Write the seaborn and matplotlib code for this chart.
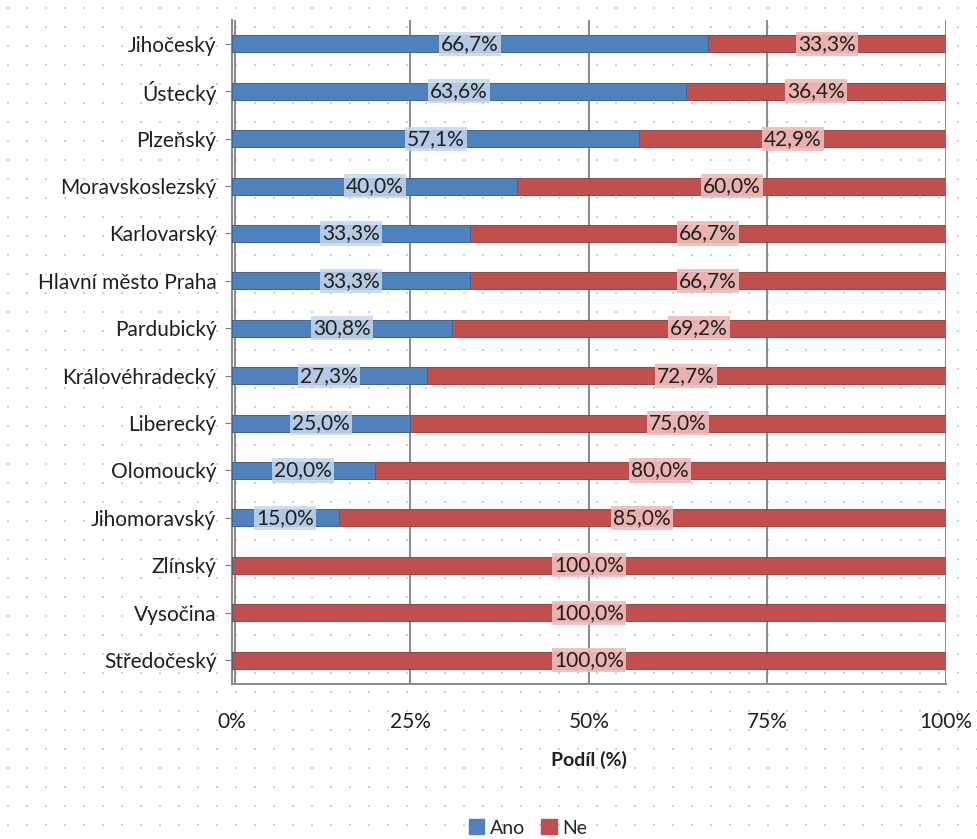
import numpy as np
import pandas as pd
import matplotlib.pyplot as plt
import seaborn as sns

# Data
kraje = ['Jihočeský', 'Ústecký', 'Plzeňský', 'Moravskoslezský', 'Karlovarský',
         'Hlavní město Praha', 'Pardubický', 'Královéhradecký', 'Liberecký',
         'Olomoucký', 'Jihomoravský', 'Zlínský', 'Vysočina', 'Středočeský']
ano = [66.7, 63.6, 57.1, 40.0, 33.3, 33.3, 30.8, 27.3, 25.0, 20.0, 15.0, 0.0, 0.0, 0.0]
ne = [33.3, 36.4, 42.9, 60.0, 66.7, 66.7, 69.2, 72.7, 75.0, 80.0, 85.0, 100.0, 100.0, 100.0]
x_ticks = [0, 25, 50, 75, 100]
x_ticklabels = ['0%', '25%', '50%', '75%', '100%']

df = pd.DataFrame({'Kraj': kraje, 'Ano': ano, 'Ne': ne})
df['Celkem'] = df['Ano'] + df['Ne']

sns.set_style('white')
plt.rcParams['font.family'] = ['Lato', 'DejaVu Sans']

blue = '#4F81BD'
red = '#C0504D'
fs = 15

fig = plt.figure(figsize=(9.78, 8.39), dpi=100)

# dotted background
bg = fig.add_axes([0, 0, 1, 1], zorder=-1)
gx, gy = np.meshgrid(np.arange(8, 978, 19), np.arange(8, 839, 19))
bg.scatter(gx.ravel(), gy.ravel(), s=1.2, color='#d0d0d0', marker='s', linewidths=0)
bg.set_xlim(0, 978)
bg.set_ylim(839, 0)
bg.axis('off')

ax = fig.add_axes([0.237, 0.185, 0.73, 0.791])
ax.patch.set_alpha(0)

sns.barplot(data=df, y='Kraj', x='Celkem', color=red, orient='h', width=0.36,
            saturation=1, edgecolor='#8e3532', linewidth=0.6, ax=ax, zorder=3)
sns.barplot(data=df, y='Kraj', x='Ano', color=blue, orient='h', width=0.36,
            saturation=1, edgecolor='#3a6496', linewidth=0.6, ax=ax, zorder=4)

for i, row in df.iterrows():
    if row['Ano'] > 0:
        ax.text(row['Ano'] / 2, i, f"{row['Ano']:.1f}%".replace('.', ','),
                ha='center', va='center', fontsize=fs, color='#1f1f1f', zorder=6,
                bbox=dict(boxstyle='square,pad=0.1', facecolor='#c5d6ec', edgecolor='none', alpha=0.85))
    ax.text(row['Ano'] + row['Ne'] / 2, i, f"{row['Ne']:.1f}%".replace('.', ','),
            ha='center', va='center', fontsize=fs, color='#1f1f1f', zorder=6,
            bbox=dict(boxstyle='square,pad=0.1', facecolor='#eebcbb', edgecolor='none', alpha=0.9))

ax.set_xlim(0, 100)
ax.set_ylim(len(kraje) - 0.5, -0.5)
ax.set_xticks(x_ticks)
ax.set_xticklabels(x_ticklabels, fontsize=fs, color='#1f1f1f')
ax.tick_params(axis='y', labelsize=fs, labelcolor='#1f1f1f', length=5, color='#7f7f7f',
               left=True, pad=6)
ax.tick_params(axis='x', length=0, pad=20)
for x in x_ticks[1:]:
    ax.axvline(x, color='#8c8c8c', lw=1.5, zorder=1)
ax.axvline(0.4, color='#8c8c8c', lw=1.5, zorder=1)
for s in ['top', 'right']:
    ax.spines[s].set_visible(False)
for s in ['left', 'bottom']:
    ax.spines[s].set_color('#8c8c8c')
    ax.spines[s].set_linewidth(1.5)
ax.set_ylabel('')
ax.set_xlabel('Podíl (%)', fontsize=fs - 1, fontweight='bold', color='#1f1f1f', labelpad=14)

handles = [plt.Rectangle((0, 0), 1, 1, color=blue), plt.Rectangle((0, 0), 1, 1, color=red)]
fig.legend(handles, ['Ano', 'Ne'], loc='center', bbox_to_anchor=(0.54, 0.013), ncol=2,
           frameon=False, fontsize=fs - 1, handlelength=0.8, handleheight=0.8,
           handletextpad=0.3, columnspacing=0.8)

fig.savefig('out.png', dpi=100)
